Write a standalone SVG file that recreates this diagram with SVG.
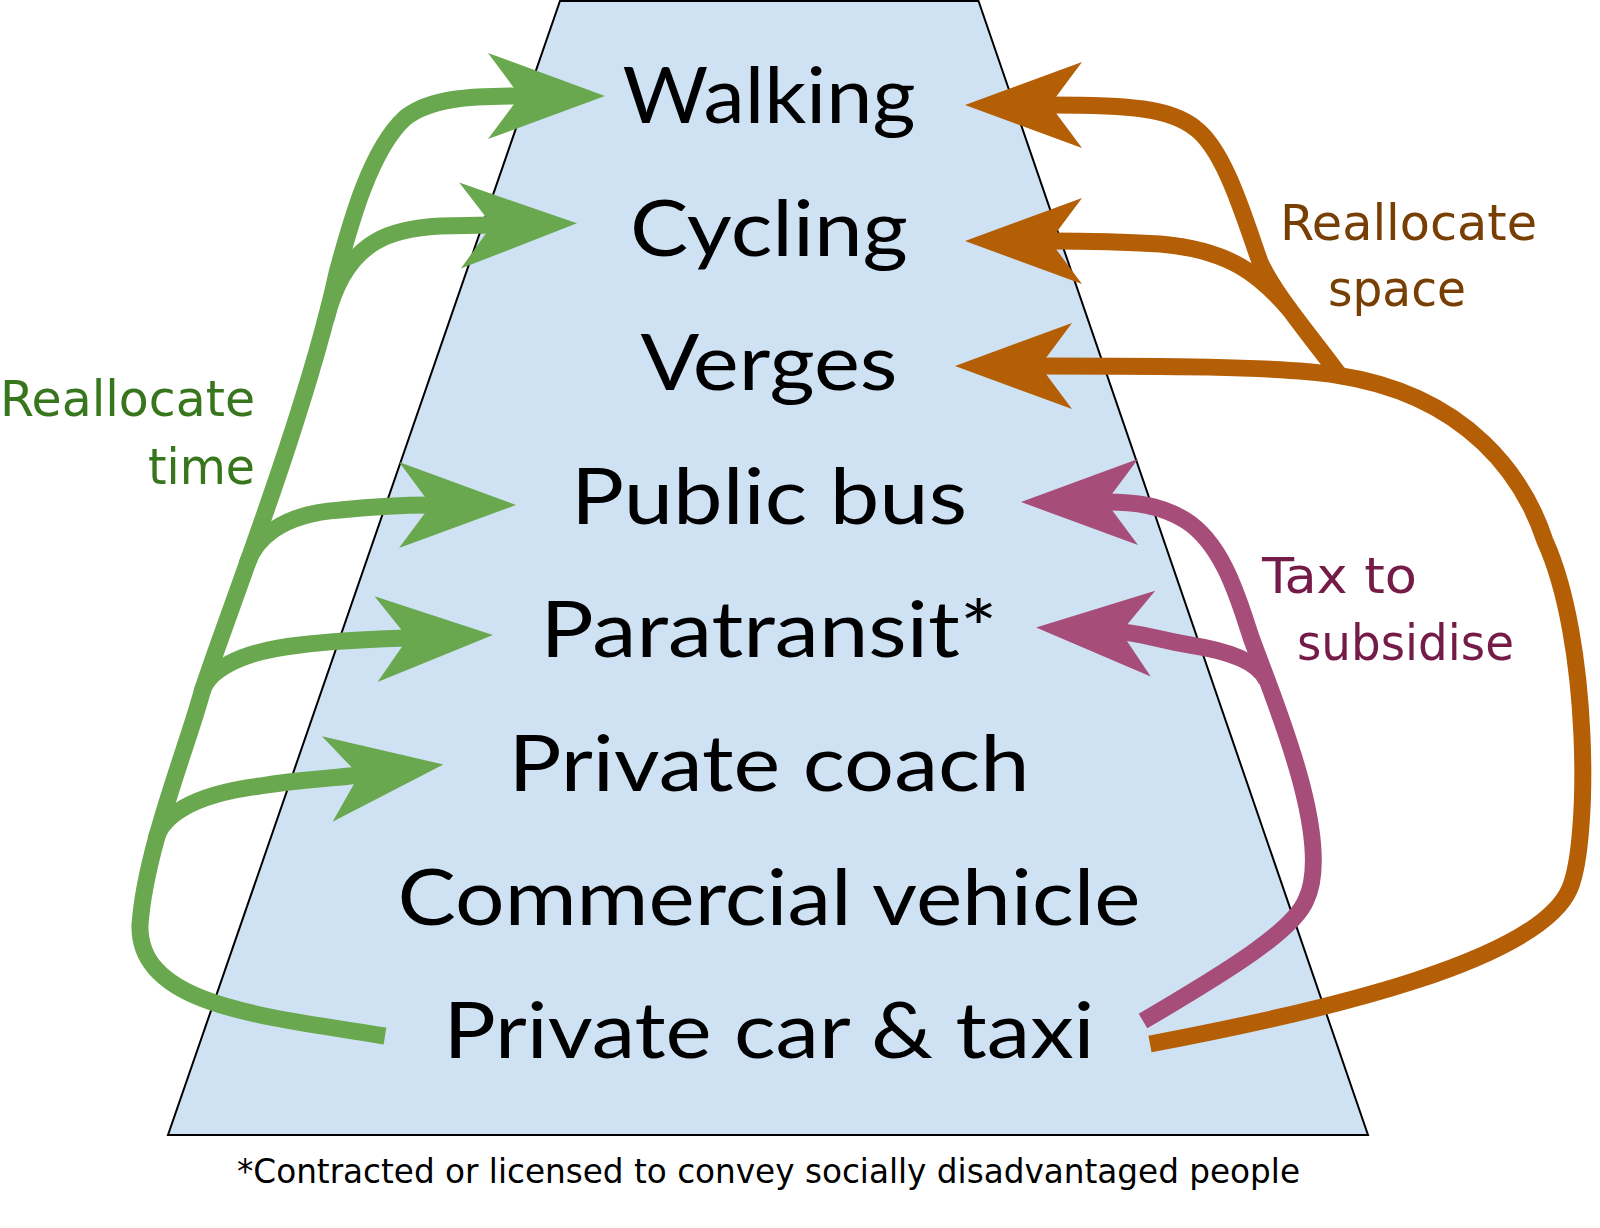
<svg xmlns="http://www.w3.org/2000/svg" width="1600" height="1228" viewBox="0 0 1600 1228">
<style>
.mode{font-family:Lato,"Noto Sans",sans-serif;font-size:77px;fill:#000;text-anchor:middle}
.lbl{font-family:"DejaVu Sans Condensed","Liberation Sans Narrow","Open Sans",sans-serif;font-stretch:condensed;font-size:50px}
.foot{font-family:"DejaVu Sans Condensed","Liberation Sans Narrow","Open Sans",sans-serif;font-stretch:condensed;font-size:33px;fill:#000}
.ar{fill:none;stroke-width:17;stroke-linecap:butt;stroke-linejoin:round}
.g{stroke:#6aa84f}.o{stroke:#b45f06}.p{stroke:#a64d79}
</style>
<defs>
<marker id="mg" markerUnits="userSpaceOnUse" orient="auto" viewBox="-40 -50 130 100" markerWidth="130" markerHeight="100" refX="0" refY="0" overflow="visible"><path d="M85,0 L-32,-43 L0,0 L-32,43 Z" fill="#6aa84f"/></marker>
<marker id="mo" markerUnits="userSpaceOnUse" orient="auto" viewBox="-40 -50 130 100" markerWidth="130" markerHeight="100" refX="0" refY="0" overflow="visible"><path d="M85,0 L-32,-43 L0,0 L-32,43 Z" fill="#b45f06"/></marker>
<marker id="mp" markerUnits="userSpaceOnUse" orient="auto" viewBox="-40 -50 130 100" markerWidth="130" markerHeight="100" refX="0" refY="0" overflow="visible"><path d="M85,0 L-32,-43 L0,0 L-32,43 Z" fill="#a64d79"/></marker>
</defs>
<rect width="1600" height="1228" fill="#fff"/>
<g id="pyramid">
<polygon points="560,1 978.5,1 1368,1135 168,1135" fill="#cfe2f3" stroke="#000" stroke-width="2"/>
</g>
<g id="walking"><text class="mode" x="769" y="123" textLength="293" lengthAdjust="spacingAndGlyphs">Walking</text></g>
<g id="cycling"><text class="mode" x="769" y="256" textLength="278" lengthAdjust="spacingAndGlyphs">Cycling</text></g>
<g id="verges"><text class="mode" x="769" y="390" textLength="257" lengthAdjust="spacingAndGlyphs">Verges</text></g>
<g id="public-bus"><text class="mode" x="769" y="524" textLength="396" lengthAdjust="spacingAndGlyphs">Public bus</text></g>
<g id="paratransit"><text class="mode" x="769" y="657" textLength="457" lengthAdjust="spacingAndGlyphs">Paratransit*</text></g>
<g id="private-coach"><text class="mode" x="769" y="791" textLength="521" lengthAdjust="spacingAndGlyphs">Private coach</text></g>
<g id="commercial-vehicle"><text class="mode" x="769" y="925" textLength="743" lengthAdjust="spacingAndGlyphs">Commercial vehicle</text></g>
<g id="private-car"><text class="mode" x="769" y="1058" textLength="651" lengthAdjust="spacingAndGlyphs">Private car &amp; taxi</text></g>
<g id="connectors">
<path class="ar g" marker-end="url(#mg)" d="M385,1036 C260,1016 138,1005 140,925 C145,850 188,745 202,692 C218,639 305,420 337,273 C350,225 370,150 405,118 C430,98 470,96 520,96"/>
<path class="ar g" marker-end="url(#mg)" d="M326,319 C333,292 345,260 375,242 C395,230 420,227 440,226 L492,225"/>
<path class="ar g" marker-end="url(#mg)" d="M247,564 C255,540 280,514 340,510 C380,506 410,505 431,505"/>
<path class="ar g" marker-end="url(#mg)" d="M202,692 C207,673 235,652 300,645 C340,640 380,639 408,638"/>
<path class="ar g" marker-end="url(#mg)" d="M156,839 C162,817 190,795 260,786 C300,779 327,779 359,775"/>
<path class="ar o" marker-end="url(#mo)" d="M1150,1044 C1330,1010 1540,960 1570,888 C1590,840 1590,640 1545,541 C1525,480 1470,395 1336,375 C1280,366 1150,366 1040,366"/>
<path class="ar o" marker-end="url(#mo)" d="M1340,376 C1310,335 1275,295 1260,262 C1245,220 1225,150 1195,128 C1170,108 1130,105 1050,105"/>
<path class="ar o" marker-end="url(#mo)" d="M1290,310 C1260,275 1230,250 1160,244 C1110,241 1080,241 1050,241"/>
<path class="ar p" marker-end="url(#mp)" d="M1143,1021 C1230,970 1294,930 1306,900 C1335,840 1270,690 1252,640 C1240,605 1225,545 1185,520 C1160,505 1135,502 1106,502"/>
<path class="ar p" marker-end="url(#mp)" d="M1267,681 C1260,664 1235,652 1190,645 C1160,640 1140,633 1121,632"/>
</g>
<g id="labels">
<text class="lbl" x="0" y="416" fill="#38761d" textLength="255" lengthAdjust="spacingAndGlyphs">Reallocate</text>
<text class="lbl" x="148" y="484" fill="#38761d" textLength="107" lengthAdjust="spacingAndGlyphs">time</text>
<text class="lbl" x="1280" y="240" fill="#783f04" textLength="257" lengthAdjust="spacingAndGlyphs">Reallocate</text>
<text class="lbl" x="1328" y="306" fill="#783f04" textLength="138" lengthAdjust="spacingAndGlyphs">space</text>
<text class="lbl" x="1262" y="593" fill="#741b47" textLength="155" lengthAdjust="spacingAndGlyphs">Tax to</text>
<text class="lbl" x="1297" y="660" fill="#741b47" textLength="217" lengthAdjust="spacingAndGlyphs">subsidise</text>
</g>
<g id="footnote">
<text class="foot" x="237" y="1183" textLength="1063" lengthAdjust="spacingAndGlyphs">*Contracted or licensed to convey socially disadvantaged people</text>
</g>
</svg>
